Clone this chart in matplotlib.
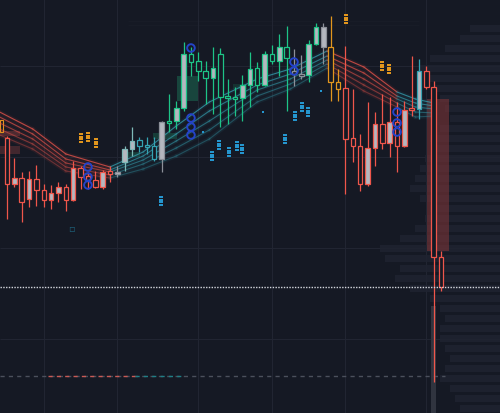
import matplotlib
matplotlib.use("Agg")
import matplotlib.pyplot as plt
from matplotlib.patches import Rectangle

BG = "#151924"
GRID = "#212532"
BODY = "#b4b7bf"
BLUE = "#2443c8"
EDGE = {
    "r": "#ef564b",
    "g": "#1dc487",
    "o": "#e2961d",
    "k": "#8c9099",
    "s": "#7fb9b8",
    "t": "#35a3b3",
}

# candles (price units)
opens = [275, 229, 235, 214, 234, 223, 213, 220, 226, 213, 245, 237, 233, 226, 242,
         239, 251, 264, 273, 268, 267, 254, 292, 292, 305, 359, 352, 342, 335, 359,
         317, 316, 315, 328, 345, 328, 359, 352, 366, 342, 339, 338, 369, 366, 366,
         331, 325, 275, 267, 229, 265, 289, 270, 291, 267, 305, 304, 342, 326, 156]
highs = [277, 255, 241, 242, 248, 229, 228, 231, 229, 252, 247, 241, 242, 243, 247,
         247, 267, 286, 276, 276, 276, 292, 319, 312, 371, 366, 361, 352, 366, 365,
         334, 326, 338, 361, 351, 362, 368, 379, 387, 364, 358, 373, 390, 390, 397,
         344, 367, 324, 279, 311, 301, 319, 316, 311, 312, 357, 354, 347, 332, 162]
lows = [194, 226, 191, 206, 207, 206, 204, 211, 202, 212, 224, 224, 225, 224, 231,
        236, 242, 257, 261, 259, 252, 241, 281, 284, 302, 337, 332, 309, 299, 286,
        289, 297, 292, 306, 321, 327, 349, 337, 302, 327, 334, 331, 368, 349, 312,
        312, 219, 251, 222, 227, 247, 264, 256, 241, 266, 297, 294, 324, 31, 122]
closes = [229, 235, 211, 234, 223, 213, 220, 226, 213, 245, 236, 233, 226, 241, 239,
          241, 264, 272, 267, 266, 254, 291, 290, 305, 359, 351, 342, 335, 345, 316,
          315, 314, 328, 344, 328, 359, 352, 366, 355, 339, 337, 369, 386, 386, 331,
          324, 274, 267, 229, 265, 289, 270, 291, 267, 303, 303, 342, 326, 156, 126]
trend = "r" * 15 + "k" + "ss" + "ttt" + "k" + "g" * 17 + "kk" + "gg" + "k" + "oo" + "r" * 10 + "t" + "rrr"

# moving-average ribbon
ribbon_x = [-1, 3.5, 8, 14, 18.5, 23, 27.5, 34, 38.5, 43.5, 48.5, 53, 55.5, 58]
ribbon_lines = [
    [301, 284, 259, 246, 261, 287, 311, 334, 344, 362, 346, 321, 314, 310],
    [296, 279, 254, 243, 257, 279, 302, 328, 339, 357, 340, 317, 310, 307],
    [290, 274, 250, 241, 253, 272, 292, 323, 334, 353, 334, 314, 306, 304],
    [284, 269, 246, 238, 249, 265, 283, 317, 329, 349, 328, 310, 301, 300],
    [278, 264, 242, 235, 244, 257, 274, 311, 324, 345, 322, 306, 296, 297],
]
ribbon_trend = "rrrttttttrrtt"

# markers
circle_x = [11, 11, 11, 25, 25, 25, 25, 39, 39, 53, 53, 53]
circle_p = [246, 236, 228, 365, 295, 286, 278, 351, 342, 301, 290, 281]
orange_dots_x = [10.1, 11.0, 12.1, 46.1, 51.0, 51.9]
orange_dots_p = [275, 276, 270, 394, 347, 344]
blue_dots_x = [20.9, 27.9, 28.8, 30.2, 31.3, 31.9, 37.8, 39.2, 40.1, 40.9]
blue_dots_p = [212, 257, 268, 261, 267, 264, 274, 297, 306, 301]
teal_points_x = [26.6, 34.8, 42.7]
teal_points_p = [281, 301, 322]

# zones: x0, x1, p0, p1, colour, alpha
zones = [
    (23.1, 26.0, 312, 337, "#1b6b52", 0.55),
    (19.8, 23.1, 274, 280, "#1b6b52", 0.45),
    (16.3, 18.1, 256, 261, "#1b6b52", 0.4),
    (30.7, 32.6, 324, 329, "#1b6b52", 0.3),
    (-0.95, 1.8, 277, 282, "#7a3a3c", 0.5),
    (-0.95, 1.8, 259, 267, "#7a3a3c", 0.45),
    (57.1, 60.1, 162, 314, "#7b3538", 0.6),
]

# volume profile on the right
profile_p = list(range(5, 400, 10))
profile_vol = [40, 45, 50, 60, 55, 50, 55, 60, 60, 55, 60, 70, 90, 105, 100, 115, 120, 100, 85, 75,
               70, 80, 90, 85, 80, 75, 65, 70, 60, 50, 55, 60, 65, 75, 80, 70, 55, 40, 30, 0]

current_level = closes[-1]
dashed_level = 37
grid_x = [5, 15, 26, 36, 46, 57]
grid_p = [347, 256, 165, 74]


def main() -> None:
    fig = plt.figure(figsize=(5.0, 4.14), dpi=100, facecolor=BG)
    ax = fig.add_axes([0, 0, 1, 1])
    ax.set_facecolor(BG)
    ax.set_xlim(-0.95, 67.0)
    ax.set_ylim(0, 414)
    ax.axis("off")

    ax.vlines(grid_x, 0, 414, color=GRID, lw=0.8, zorder=0)
    ax.hlines(grid_p, -1, 68, color=GRID, lw=0.8, zorder=0)

    right = 67.0
    scale = 16.3 / max(profile_vol)
    for p, v in zip(profile_p, profile_vol):
        if v:
            ax.barh(p, v * scale, left=right - v * scale, height=7, color="#1f2330",
                    alpha=0.9, lw=0, zorder=0.5)
    ax.hlines([392, 388], 16.4, 56, color="#23273342", lw=0.8, zorder=0.6)

    for x0, x1, p0, p1, col, a in zones:
        ax.add_patch(Rectangle((x0, p0), x1 - x0, p1 - p0, color=col, alpha=a, lw=0, zorder=1))
    ax.add_patch(Rectangle((-0.95, 281), 0.4, 12, fill=False, ec=EDGE["o"], lw=0.8, zorder=1))

    # ribbon
    for k, line in enumerate(ribbon_lines):
        for j in range(len(ribbon_x) - 1):
            col = EDGE["r"] if ribbon_trend[j] == "r" else EDGE["t"]
            xs = ribbon_x[j:j + 2]
            ys = line[j:j + 2]
            ax.plot(xs, ys, color=col, lw=3, alpha=0.08, zorder=1.5, solid_capstyle="round")
            ax.plot(xs, ys, color=col, lw=0.8, alpha=0.75 - 0.1 * k, zorder=1.6,
                    solid_capstyle="round")

    # volume bar under the big drop
    ax.bar(58, 107, width=0.7, color="#30343f", zorder=1.2)

    # candles
    for i, (o, h, l, c, t) in enumerate(zip(opens, highs, lows, closes, trend)):
        col = EDGE[t]
        top, bot = max(o, c), min(o, c)
        if top - bot < 1.5:
            top, bot = top + 0.75, bot - 0.75
        ax.vlines(i, top, h, color=col, lw=0.9, zorder=3)
        ax.vlines(i, l, bot, color=col, lw=0.9, zorder=3)
        face = BODY if c > o else BG
        ax.bar(i, top - bot, bottom=bot, width=0.62, color=face, edgecolor=col,
               linewidth=0.9, zorder=3)

    # price lines
    ax.axhline(current_level, color="#d4d7de", lw=1, ls=(0, (1, 1)), zorder=4)
    ax.hlines(dashed_level, -1, 59.5, color="#4b505c", lw=1, ls=(0, (3, 3)), zorder=2)
    ax.hlines(dashed_level, 5.6, 17.4, color="#c95a55", lw=1, ls=(0, (3, 3)), zorder=2.1)
    ax.hlines(dashed_level, 17.4, 24.2, color="#1f7f86", lw=1, ls=(0, (3, 3)), zorder=2.1)

    # dot clusters
    for xs, ps, col in ((orange_dots_x, orange_dots_p, EDGE["o"]),
                        (blue_dots_x, blue_dots_p, "#2596cf")):
        for x, p in zip(xs, ps):
            dx = [x - 0.13, x + 0.13] * 4
            dp = [p + 4, p + 4, p + 1.5, p + 1.5, p - 1, p - 1, p - 3.5, p - 3.5]
            ax.scatter(dx, dp, marker="s", s=1.6, color=col, lw=0, zorder=4)
    ax.scatter(teal_points_x, teal_points_p, marker="s", s=2.5, color="#2596cf", lw=0, zorder=4)
    ax.text(8.8, 186, "▫", color="#1d5f78", fontsize=7, ha="center", va="center", zorder=2)

    ax.scatter(circle_x, circle_p, s=30, facecolors="none", edgecolors=BLUE, linewidths=1.4,
               zorder=5)

    fig.savefig("out.png", dpi=100, facecolor=BG)
    plt.close(fig)


if __name__ == "__main__":
    main()
